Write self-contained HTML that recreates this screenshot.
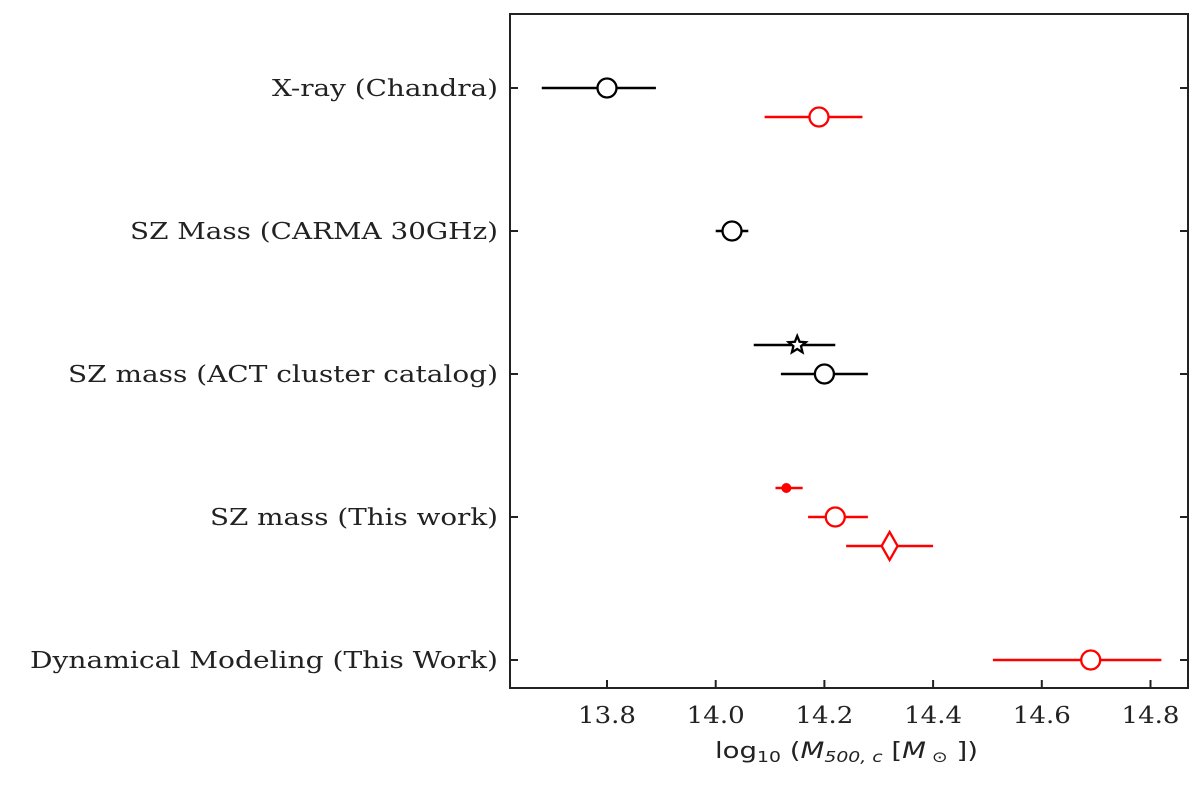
<!DOCTYPE html>
<html><head><meta charset="utf-8"><style>
body{margin:0;background:#fff;}
text{font-family:"DejaVu Serif","Liberation Serif",serif;}
</style></head><body>
<svg id="chart" width="1200" height="789" xmlns="http://www.w3.org/2000/svg"></svg>
<script>
const categories=["X-ray (Chandra)","SZ Mass (CARMA 30GHz)","SZ mass (ACT cluster catalog)","SZ mass (This work)","Dynamical Modeling (This Work)"];
const xTicks=[13.8,14.0,14.2,14.4,14.6,14.8];
const ptCat=[0,0,1,2,2,3,3,3,4];
const ptOffset=[0,1,0,-1,0,-1,0,1,0];
const ptVal=[13.80,14.19,14.03,14.15,14.20,14.13,14.22,14.32,14.69];
const ptLo=[13.68,14.09,14.00,14.07,14.12,14.11,14.17,14.24,14.51];
const ptHi=[13.89,14.27,14.06,14.22,14.28,14.16,14.28,14.40,14.82];
const ptColor=["black","red","black","black","black","red","red","red","red"];
const ptMarker=["circle","circle","circle","star","circle","dot","circle","diamond","circle"];

const labelW=[226,368,430,288,468];
const svg=document.getElementById('chart');const NS="http://www.w3.org/2000/svg";
const L=510,R=1188,T=14,B=688;
const xs=v=>607+(v-13.8)*543.5;
const ys=(c,o)=>88+c*143+o*29;
function mk(tag,at,parent){const e=document.createElementNS(NS,tag);for(const k in at)e.setAttribute(k,at[k]);(parent||svg).appendChild(e);return e;}
let e=mk('rect',{x:L,y:T,width:R-L,height:B-T,fill:'none',stroke:'#222','stroke-width':2});


xTicks.forEach(t=>{
 const x=xs(t);
 let l=mk('line',{x1:x,x2:x,y1:B,y2:B-8,stroke:'#222','stroke-width':2});
 
 
 let tx=mk('text',{x:x-29,y:B+35,'font-size':23,fill:'#222',textLength:58,lengthAdjust:'spacingAndGlyphs'});tx.textContent=t.toFixed(1);
 
 
});
categories.forEach((c,i)=>{
 const y=ys(i,0);
 [[L,L+8],[R,R-8]].forEach(p=>{let l=mk('line',{x1:p[0],x2:p[1],y1:y,y2:y,stroke:'#222','stroke-width':2});
 
 });
 let tx=mk('text',{x:498-labelW[i],y:y+8,'font-size':23,fill:'#222',textLength:labelW[i],lengthAdjust:'spacingAndGlyphs'});tx.textContent=c;
 
 
});
let xt=mk('text',{x:715,y:758,'font-size':22,fill:'#222',style:'font-family:"DejaVu Sans","Liberation Sans",sans-serif',textLength:263,lengthAdjust:'spacingAndGlyphs'});
xt.innerHTML='log<tspan font-size="15" dy="4">10</tspan><tspan dy="-4"> (</tspan><tspan font-style="italic">M</tspan><tspan font-size="15" dy="4" font-style="italic">500, c</tspan><tspan dy="-4"> [</tspan><tspan font-style="italic">M</tspan><tspan font-size="15" dy="4"> ⊙</tspan><tspan dy="-4"> ])</tspan>';


ptVal.forEach((v,i)=>{
 const y=ys(ptCat[i],ptOffset[i]),col=ptColor[i],x=xs(v);
 const g=mk('g',{});
 
 
 mk('line',{x1:xs(ptLo[i]),x2:xs(ptHi[i]),y1:y,y2:y,stroke:col,'stroke-width':2.5},g);
 const m=ptMarker[i];
 if(m==='circle')mk('circle',{cx:x,cy:y,r:9.5,fill:'#fff',stroke:col,'stroke-width':2.3},g);
 else if(m==='dot')mk('circle',{cx:x,cy:y,r:5,fill:col},g);
 else if(m==='diamond')mk('polygon',{points:`${x},${y-14} ${x+8},${y} ${x},${y+14} ${x-8},${y}`,fill:'#fff',stroke:col,'stroke-width':2.3},g);
 else{let p=[];for(let k=0;k<10;k++){const r=k%2?4:9,a=-Math.PI/2+k*Math.PI/5;p.push((x+r*Math.cos(a)).toFixed(1)+','+(y+r*Math.sin(a)).toFixed(1));}
  mk('polygon',{points:p.join(' '),fill:'#fff',stroke:col,'stroke-width':2.3},g);}
});
</script>
</body></html>
